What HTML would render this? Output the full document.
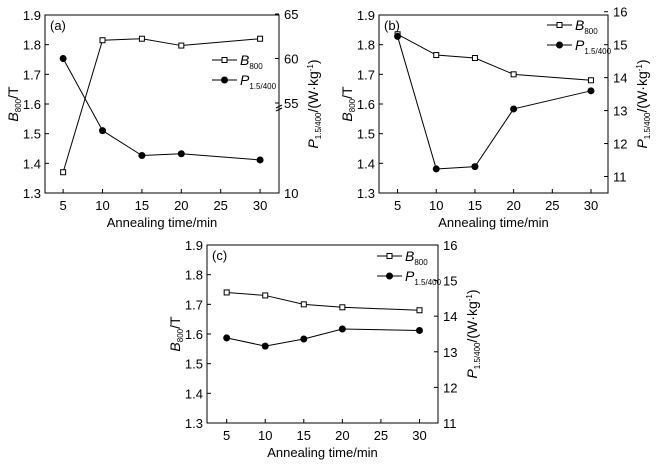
<!DOCTYPE html>
<html><head><meta charset="utf-8">
<style>
html,body{margin:0;padding:0;background:#fff;}
svg{display:block;font-family:"Liberation Sans",Arial,sans-serif;}
</style></head>
<body>
<svg id="chart" width="665" height="465" viewBox="0 0 665 465"></svg>
<script>
const categories = [5, 10, 15, 20, 30];
const xTicks = [5, 10, 15, 20, 25, 30];
const leftTicks = [1.3, 1.4, 1.5, 1.6, 1.7, 1.8, 1.9];
const bA = [1.37, 1.815, 1.82, 1.797, 1.82];
const pA = [60.0, 51.9, 49.1, 49.3, 48.6];
const rightTicksA = [10, 55, 60, 65];
const bB = [1.835, 1.765, 1.755, 1.70, 1.68];
const pB = [15.25, 11.23, 11.3, 13.05, 13.6];
const rightTicksB = [11, 12, 13, 14, 15, 16];
const bC = [1.74, 1.73, 1.70, 1.69, 1.68];
const pC = [13.39, 13.16, 13.36, 13.64, 13.6];
const rightTicksC = [11, 12, 13, 14, 15, 16];

const NS = "http://www.w3.org/2000/svg";
const svg = document.getElementById('chart');
function mk(tag, attrs, parent, text){
  const e = document.createElementNS(NS, tag);
  for (const k in attrs) e.setAttribute(k, attrs[k]);
  if (text !== undefined) e.textContent = text;
  parent.appendChild(e);
  return e;
}

function drawPanel(p){
  const g = mk('g', {}, svg);
  
  
  const xs = v => p.L + (v - p.x0) / (p.x1 - p.x0) * (p.R - p.L);
  const yl = v => p.B - (v - 1.3) / (0.6) * (p.B - p.T);
  const yr = p.yr;
  const box = mk('rect', {x:p.L, y:p.T, width:p.R-p.L, height:p.B-p.T, fill:'none', stroke:'#000', 'stroke-width':1}, g);
  
  
  xTicks.forEach(t => {
    const x = xs(t);
    mk('line', {x1:x, x2:x, y1:p.B, y2:p.B-4, stroke:'#000'}, g);
    const tl = mk('text', {x:x, y:p.B+17, 'font-size':13, 'text-anchor':'middle'}, g, String(t));
    
    
  });
  leftTicks.forEach(t => {
    const y = yl(t);
    mk('line', {x1:p.L, x2:p.L+4, y1:y, y2:y, stroke:'#000'}, g);
    const tl = mk('text', {x:p.L-4, y:y+5, 'font-size':13, 'text-anchor':'end'}, g, t.toFixed(1));
    
    
  });
  p.rTicks.forEach(t => {
    const y = yr(t);
    mk('line', {x1:p.R, x2:p.R-4, y1:y, y2:y, stroke:'#000'}, g);
    const tl = mk('text', {x:p.R+5, y:y+5, 'font-size':13}, g, String(t));
    
    
  });
  if (p.brk){
    mk('path', {d:`M${p.R-3},${p.brk+3} l6,-3 M${p.R-3},${p.brk+6} l6,-3`, stroke:'#000', fill:'none'}, g);
  }
  const xt = mk('text', {x:(p.L+p.R)/2, y:p.B+34, 'font-size':13, 'text-anchor':'middle'}, g, 'Annealing time/min');
  
  
  const cy = (p.T+p.B)/2;
  const lt = mk('text', {transform:`translate(${p.L-27},${cy}) rotate(-90)`, 'font-size':14, 'text-anchor':'middle'}, g);
  
  
  mk('tspan', {'font-style':'italic'}, lt, 'B');
  mk('tspan', {'font-size':8, dy:3}, lt, '800');
  mk('tspan', {dy:-3}, lt, '/T');
  const rt = mk('text', {transform:`translate(${p.R+39},${cy}) rotate(-90)`, 'font-size':14, 'text-anchor':'middle'}, g);
  
  
  mk('tspan', {'font-style':'italic'}, rt, 'P');
  mk('tspan', {'font-size':8, dy:3}, rt, '1.5/400');
  mk('tspan', {dy:-3}, rt, '/(W·kg');
  mk('tspan', {'font-size':8, dy:-5}, rt, '-1');
  mk('tspan', {dy:5}, rt, ')');
  const pl = mk('text', {x:p.L+5, y:p.T+15, 'font-size':13}, g, '(' + p.id + ')');
  
  
  const bl = mk('polyline', {points: categories.map((c,i)=>xs(c)+','+yl(p.b[i])).join(' '), fill:'none', stroke:'#000', 'stroke-width':1}, g);
  
  
  categories.forEach((c,i)=>{
    const m = mk('rect', {x:xs(c)-2.5, y:yl(p.b[i])-2.5, width:5, height:5, fill:'#fff', stroke:'#000'}, g);
    
    
  });
  const pline = mk('polyline', {points: categories.map((c,i)=>xs(c)+','+yr(p.p[i])).join(' '), fill:'none', stroke:'#000', 'stroke-width':1}, g);
  
  
  categories.forEach((c,i)=>{
    const m = mk('circle', {cx:xs(c), cy:yr(p.p[i]), r:3.5, fill:'#000'}, g);
    
    
  });
  const lg = mk('g', {}, g);
  
  
  const lx = p.lx, ly = p.ly;
  mk('line', {x1:lx, x2:lx+25, y1:ly, y2:ly, stroke:'#000'}, lg);
  mk('rect', {x:lx+10, y:ly-2.5, width:5, height:5, fill:'#fff', stroke:'#000'}, lg);
  const t1 = mk('text', {x:lx+28, y:ly+5, 'font-size':14}, lg);
  mk('tspan', {'font-style':'italic'}, t1, 'B');
  mk('tspan', {'font-size':8, dy:4}, t1, '800');
  mk('line', {x1:lx, x2:lx+25, y1:ly+20, y2:ly+20, stroke:'#000'}, lg);
  mk('circle', {cx:lx+12.5, cy:ly+20, r:3.5, fill:'#000'}, lg);
  const t2 = mk('text', {x:lx+28, y:ly+25, 'font-size':14}, lg);
  mk('tspan', {'font-style':'italic'}, t2, 'P');
  mk('tspan', {'font-size':8, dy:4}, t2, '1.5/400');
}

const aT = 15, aB = 193;
const y55 = 103, pxPerUnitA = 8.9;
drawPanel({id:'a', L:45, R:279, T:aT, B:aB, x0:2.7, x1:32.4, b:bA, p:pA,
  rTicks:rightTicksA, brk:y55+2,
  yr: v => v <= 10 ? aB : (v < 45 ? aB - (v-10)/35*(aB-y55-90) : y55 + (55 - v) * pxPerUnitA),
  lx:212, ly:60});
drawPanel({id:'b', L:379, R:608, T:15, B:193, x0:2.6, x1:32.2, b:bB, p:pB,
  rTicks:rightTicksB, yr: v => 193 - (v - 10.5) / (15.9 - 10.5) * 178, lx:547, ly:25});
drawPanel({id:'c', L:207, R:438, T:245, B:423, x0:2.45, x1:32.4, b:bC, p:pC,
  rTicks:rightTicksC, yr: v => 423 - (v - 11) / 5 * 178, lx:377, ly:256});
</script>
</body></html>
